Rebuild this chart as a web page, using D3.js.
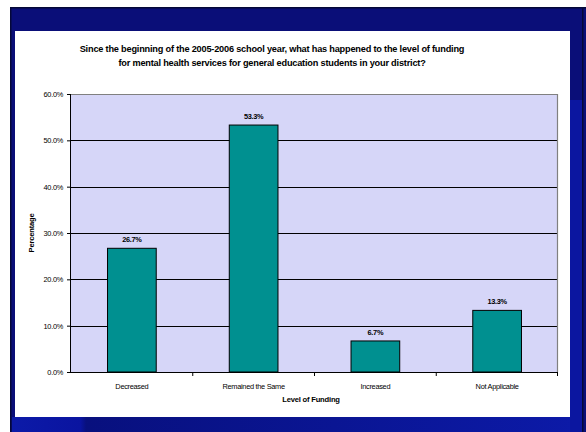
<!DOCTYPE html>
<html><head><meta charset="utf-8">
<script src="https://cdn.jsdelivr.net/npm/d3@7"></script>
<style>html,body{margin:0;padding:0;background:#fff;}svg{display:block;font-family:"Liberation Sans",Arial,sans-serif;}</style>
</head><body>
<script>
const categories = ["Decreased", "Remained the Same", "Increased", "Not Applicable"];
const values = [26.7, 53.3, 6.7, 13.3];
const yTicks = [0, 10, 20, 30, 40, 50, 60];
const titleLines = ["Since the beginning of the 2005-2006 school year, what has happened to the level of funding",
                    "for mental health services for general education students in your district?"];
const xTitle = "Level of Funding";
const yTitle = "Percentage";

const W = 586, H = 432;
const svg = d3.select("body").append("svg").attr("width", W).attr("height", H);

// slide background
svg.append("rect").attr("x", 10).attr("y", 7).attr("width", 576).attr("height", 425).attr("fill", "#0a0e78");
svg.append("rect").attr("x", 10).attr("y", 7).attr("width", 576).attr("height", 1.5).attr("fill", "#050838");
svg.append("rect").attr("x", 10).attr("y", 7).attr("width", 1.5).attr("height", 425).attr("fill", "#050838");
svg.append("rect").attr("x", 582).attr("y", 7).attr("width", 1.5).attr("height", 425).attr("fill", "#050838");
const grad = svg.append("defs").append("linearGradient").attr("id", "bg").attr("x1", 0).attr("x2", 1);
grad.append("stop").attr("offset", 0).attr("stop-color", "#0c1aa8");
grad.append("stop").attr("offset", 0.12).attr("stop-color", "#0a14a0");
grad.append("stop").attr("offset", 0.13).attr("stop-color", "#08107e");
grad.append("stop").attr("offset", 1).attr("stop-color", "#0c1aa8");
svg.append("rect").attr("x", 12).attr("y", 417).attr("width", 570).attr("height", 15).attr("fill", "url(#bg)");
svg.append("rect").attr("x", 570).attr("y", 100).attr("width", 12).attr("height", 332).attr("fill", "#0b16a0");

// white panel
svg.append("rect").attr("x", 15).attr("y", 31).attr("width", 555).attr("height", 386).attr("fill", "#fff");

// title
svg.append("g").selectAll("text").data(titleLines).join("text")
  .attr("x", 272).attr("y", (d, i) => 52 + i * 13.5)
  .attr("text-anchor", "middle").attr("font-size", 9.2).attr("font-weight", "bold")
  .attr("letter-spacing", -0.2).attr("fill", "#000").text(d => d);

const m = {l: 71, r: 558, t: 94, b: 372};
const x = d3.scaleBand().domain(categories).range([m.l, m.r]).paddingInner(0.6).paddingOuter(0.3);
const xb = d3.scaleBand().domain(categories).range([m.l, m.r]);
const y = d3.scaleLinear().domain([0, 60]).range([m.b, m.t]);

svg.append("rect").attr("x", m.l).attr("y", m.t).attr("width", m.r - m.l).attr("height", m.b - m.t).attr("fill", "#d6d6f8");

// gridlines
svg.append("g").selectAll("line").data(yTicks.filter(d => d > 0 && d < 60)).join("line")
  .attr("x1", m.l).attr("x2", m.r).attr("y1", d => Math.round(y(d)) + 0.5).attr("y2", d => Math.round(y(d)) + 0.5)
  .attr("stroke", "#000").attr("stroke-width", 1);
// plot border top/right
svg.append("path").attr("d", `M${m.l},${m.t + 0.5}H${m.r - 0.5}V${m.b}`).attr("fill", "none").attr("stroke", "#808080").attr("stroke-width", 1.2);

// bars
svg.append("g").selectAll("rect").data(values).join("rect")
  .attr("x", (d, i) => x(categories[i])).attr("width", x.bandwidth())
  .attr("y", d => y(d)).attr("height", d => y(0) - y(d))
  .attr("fill", "#009090").attr("stroke", "#000").attr("stroke-width", 1);

// value labels
svg.append("g").selectAll("text").data(values).join("text")
  .attr("x", (d, i) => x(categories[i]) + x.bandwidth() / 2).attr("y", d => y(d) - 6)
  .attr("text-anchor", "middle").attr("font-size", 7.4).attr("font-weight", "bold").attr("letter-spacing", -0.3)
  .attr("fill", "#000").text(d => d.toFixed(1) + "%");

// y axis
const ya = d3.axisLeft(y).tickValues(yTicks).tickFormat(d => d.toFixed(1) + "%").tickSize(4).tickPadding(4);
const yg = svg.append("g").attr("transform", `translate(${m.l},0)`).call(ya);
yg.select(".domain").attr("stroke", "#000").attr("d", `M-0.5,${m.t}V${m.b}`);
yg.selectAll(".tick line").attr("stroke", "#000");
yg.selectAll("text").attr("font-size", 7.4).attr("font-family", "Liberation Sans, Arial, sans-serif").attr("fill", "#000").attr("letter-spacing", -0.3);

// x axis
const xg = svg.append("g").attr("transform", `translate(0,${m.b})`);
xg.append("line").attr("x1", m.l - 4).attr("x2", m.r).attr("y1", 0.5).attr("y2", 0.5).attr("stroke", "#000");
xg.selectAll("line.t").data(categories.slice(1).concat([null])).join("line").attr("class", "t")
  .attr("x1", (d, i) => d ? xb(d) : m.r - 0.5).attr("x2", (d, i) => d ? xb(d) : m.r - 0.5)
  .attr("y1", 0).attr("y2", 4).attr("stroke", "#000");
xg.selectAll("text").data(categories).join("text")
  .attr("x", d => xb(d) + xb.bandwidth() / 2).attr("y", 17)
  .attr("text-anchor", "middle").attr("font-size", 7.4).attr("letter-spacing", -0.3).attr("fill", "#000").text(d => d);

svg.append("text").attr("x", 311).attr("y", 402).attr("text-anchor", "middle")
  .attr("font-size", 7.6).attr("font-weight", "bold").attr("letter-spacing", -0.2).text(xTitle);
svg.append("text").attr("transform", `translate(34,${(m.t + m.b) / 2}) rotate(-90)`).attr("text-anchor", "middle")
  .attr("font-size", 7.6).attr("font-weight", "bold").attr("letter-spacing", -0.2).text(yTitle);
</script>
</body></html>
